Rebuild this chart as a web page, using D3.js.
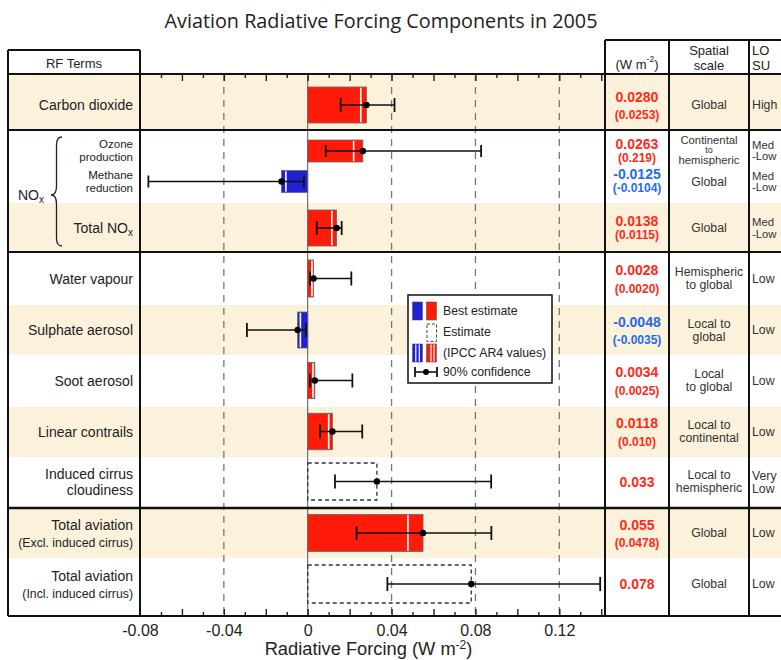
<!DOCTYPE html>
<html>
<head>
<meta charset="utf-8">
<script src="https://cdn.jsdelivr.net/npm/d3@7"></script>
<style>
  html, body { margin: 0; padding: 0; background: #fff; }
  svg { display: block; }
  text { font-family: "Liberation Sans", Arial, Helvetica, sans-serif; }
</style>
</head>
<body>
<svg id="chart" width="781" height="660"></svg>
<script>
// ---------------- DATA ----------------
const terms = ["Carbon dioxide", "Ozone production", "Methane reduction", "Total NOx",
  "Water vapour", "Sulphate aerosol", "Soot aerosol", "Linear contrails",
  "Induced cirrus cloudiness", "Total aviation (Excl. induced cirrus)", "Total aviation (Incl. induced cirrus)"];
const bestEstimate = [0.0280, 0.0263, -0.0125, 0.0138, 0.0028, -0.0048, 0.0034, 0.0118, 0.033, 0.055, 0.078];
const ar4Value = [0.0253, 0.0219, -0.0104, 0.0115, 0.0020, -0.0035, 0.0025, 0.010, null, 0.0478, null];
const ciLow = [0.0157, 0.0086, -0.0760, 0.0043, 0.0011, -0.0290, 0.0011, 0.0059, 0.0130, 0.0233, 0.0380];
const ciHigh = [0.0414, 0.0827, -0.0018, 0.0162, 0.0208, -0.0008, 0.0213, 0.0260, 0.0875, 0.0876, 0.1395];
const estimateOnly = [false, false, false, false, false, false, false, false, true, false, true];
const valueText = ["0.0280", "0.0263", "-0.0125", "0.0138", "0.0028", "-0.0048", "0.0034", "0.0118", "0.033", "0.055", "0.078"];
const ar4Text = ["(0.0253)", "(0.219)", "(-0.0104)", "(0.0115)", "(0.0020)", "(-0.0035)", "(0.0025)", "(0.010)", "", "(0.0478)", ""];
const spatialScale = [["Global"], ["Continental", "to", "hemispheric"], ["Global"], ["Global"],
  ["Hemispheric", "to global"], ["Local to", "global"], ["Local", "to global"], ["Local to", "continental"],
  ["Local to", "hemispheric"], ["Global"], ["Global"]];
const losu = [["High"], ["Med", "-Low"], ["Med", "-Low"], ["Med", "-Low"], ["Low"], ["Low"], ["Low"], ["Low"],
  ["Very", "Low"], ["Low"], ["Low"]];
const labelLines = [["Carbon dioxide"], ["Ozone", "production"], ["Methane", "reduction"], ["Total NO"],
  ["Water vapour"], ["Sulphate aerosol"], ["Soot aerosol"], ["Linear contrails"],
  ["Induced cirrus", "cloudiness"], ["Total aviation", "(Excl. induced cirrus)"], ["Total aviation", "(Incl. induced cirrus)"]];
const tickValues = [-0.08, -0.04, 0, 0.04, 0.08, 0.12];
const tickLabels = ["-0.08", "-0.04", "0", "0.04", "0.08", "0.12"];
const minorTicks = [-0.07, -0.06, -0.05, -0.04, -0.03, -0.02, -0.01, 0, 0.01, 0.02, 0.03, 0.04, 0.05, 0.06, 0.07, 0.08, 0.09, 0.10, 0.11, 0.12, 0.13, 0.14];
const gridValues = [-0.04, 0.04, 0.08, 0.12];
const legendItems = ["Best estimate", "Estimate", "(IPCC AR4 values)", "90% confidence"];

// ---------------- LAYOUT ----------------
const svg = d3.select("#chart");
const plotLeft = 140, plotRight = 605, plotTop = 74, plotBottom = 616;
const x = d3.scaleLinear().domain([-0.08, 0.1418]).range([plotLeft, plotRight]);
const rowCenters = [105, 151, 181.5, 228, 278.5, 330, 380.5, 431.5, 481.5, 533, 584];
const barHeights = [36, 22, 22, 36, 37, 36, 36, 36.5, 37, 37, 38];
const y = d3.scaleOrdinal().domain(terms).range(rowCenters);
const shadeBands = [[74, 130], [203, 252], [305, 355], [407, 457], [508, 558]];
const colVal = 637, colScale = 709, colLosu = 752;
const shade = "#fcf1db";
const RED = "#ff1a0a", BLUE = "#2020d4";
const txtRed = "#ff2a1a", txtBlue = "#1f6cf0";

// Title
svg.append("text").attr("x", 381).attr("y", 28).attr("text-anchor", "middle")
  .style("font-family", "'Open Sans', 'Noto Sans', sans-serif").style("font-size", "19.8px")
  .attr("fill", "#222").text("Aviation Radiative Forcing Components in 2005");

// Shaded bands
svg.append("g").selectAll("rect").data(shadeBands).join("rect")
  .attr("x", 8).attr("width", 781 - 8).attr("y", d => d[0]).attr("height", d => d[1] - d[0])
  .attr("fill", shade);

// Gridlines
svg.append("g").selectAll("line").data(gridValues).join("line")
  .attr("x1", d => x(d)).attr("x2", d => x(d)).attr("y1", plotTop).attr("y2", plotBottom)
  .attr("stroke", "#777").attr("stroke-width", 1.3).attr("stroke-dasharray", "7,6");
svg.append("line").attr("x1", x(0)).attr("x2", x(0)).attr("y1", plotTop).attr("y2", plotBottom)
  .attr("stroke", "#555").attr("stroke-width", 1);

// Minor/major ticks (top and bottom)
const isMajor = d => Math.abs(Math.round(d * 100)) % 2 === 0;
const topTicks = svg.append("g").attr("transform", `translate(0,${plotTop})`)
  .call(d3.axisBottom(x).tickValues(minorTicks).tickFormat("").tickSize(4));
const botTicks = svg.append("g").attr("transform", `translate(0,${plotBottom})`)
  .call(d3.axisTop(x).tickValues(minorTicks).tickFormat("").tickSize(4));
[topTicks, botTicks].forEach((g, i) => {
  g.select(".domain").remove();
  g.selectAll(".tick line").attr("stroke", "#222").attr("stroke-width", 1.4)
    .attr("y2", d => (isMajor(d) ? 7 : 4) * (i === 0 ? 1 : -1));
});

// Tick labels axis
const axis = svg.append("g").attr("transform", `translate(0,${plotBottom})`)
  .call(d3.axisBottom(x).tickValues(tickValues).tickSize(0).tickPadding(9)
    .tickFormat((d, i) => tickLabels[i]));
axis.select(".domain").remove();
axis.selectAll("text").style("font-size", "16px").attr("fill", "#222")
  .style("font-family", "'Liberation Sans', Arial, sans-serif");

// Axis title
const at = svg.append("text").attr("x", 368.5).attr("y", 655).attr("text-anchor", "middle")
  .style("font-size", "18.3px").attr("fill", "#222");
at.append("tspan").text("Radiative Forcing  (W m");
at.append("tspan").attr("dy", -6).style("font-size", "12px").text("-2");
at.append("tspan").attr("dy", 6).text(")");

// Bars
const idx = d3.range(terms.length);
const bars = svg.append("g");
idx.forEach(i => {
  const v = bestEstimate[i], h = barHeights[i], cy = y(terms[i]);
  const x0 = x(Math.min(0, v)), x1 = x(Math.max(0, v));
  if (estimateOnly[i]) {
    bars.append("rect").attr("x", x0).attr("y", cy - h / 2).attr("width", x1 - x0).attr("height", h)
      .attr("fill", "none").attr("stroke", "#333").attr("stroke-width", 1.3).attr("stroke-dasharray", "4,3");
  } else {
    bars.append("rect").attr("x", x0).attr("y", cy - h / 2).attr("width", x1 - x0).attr("height", h)
      .attr("fill", v < 0 ? BLUE : RED).attr("stroke", "#666").attr("stroke-width", 0.8);
    if (ar4Value[i] !== null) {
      bars.append("line").attr("x1", x(ar4Value[i])).attr("x2", x(ar4Value[i]))
        .attr("y1", cy - h / 2 + 0.8).attr("y2", cy + h / 2 - 0.8)
        .attr("stroke", "#fff").attr("stroke-width", 1.6);
    }
  }
});

// Error bars
const eb = svg.append("g");
idx.forEach(i => {
  const cy = y(terms[i]);
  const cap = barHeights[i] < 30 ? 12 : 14;
  eb.append("line").attr("x1", x(ciLow[i])).attr("x2", x(ciHigh[i])).attr("y1", cy).attr("y2", cy)
    .attr("stroke", "#111").attr("stroke-width", 1.6);
  [ciLow[i], ciHigh[i]].forEach(c => {
    eb.append("line").attr("x1", x(c)).attr("x2", x(c)).attr("y1", cy - cap / 2).attr("y2", cy + cap / 2)
      .attr("stroke", "#111").attr("stroke-width", 1.8);
  });
  eb.append("circle").attr("cx", x(bestEstimate[i])).attr("cy", cy).attr("r", 3.2).attr("fill", "#000");
});

// Row labels
const lab = svg.append("g").attr("fill", "#222");
idx.forEach(i => {
  const cy = y(terms[i]);
  const lines = labelLines[i];
  let sizes, offs;
  if (i === 1 || i === 2) { sizes = [11.5, 11.5]; offs = [-6.6, 6.4]; }
  else if (i === 9 || i === 10) { sizes = [14, 12.3]; offs = [-8, 10]; }
  else if (lines.length === 2) { sizes = [14, 14]; offs = [-8, 8]; }
  else { sizes = [14]; offs = [0]; }
  lines.forEach((ln, k) => {
    const t = lab.append("text").attr("x", 133).attr("y", cy + offs[k]).attr("text-anchor", "end")
      .attr("dominant-baseline", "central").style("font-size", sizes[k] + "px").text(ln);
    if (i === 3) t.append("tspan").attr("dy", 4).style("font-size", "10px").text("x");
  });
});

// NOx brace + label
svg.append("path")
  .attr("d", "M62,137 Q56.5,137 56.5,145 L56.5,186 Q56.5,195 51,195 Q56.5,195 56.5,204 L56.5,238 Q56.5,246 62,246")
  .attr("fill", "none").attr("stroke", "#222").attr("stroke-width", 1.3);
const nox = svg.append("text").attr("x", 18).attr("y", 195).attr("dominant-baseline", "central")
  .style("font-size", "14px").attr("fill", "#222").text("NO");
nox.append("tspan").attr("dy", 4).style("font-size", "10px").text("x");

// Table: values
const tv = svg.append("g").attr("text-anchor", "middle").style("font-weight", "bold");
idx.forEach(i => {
  const cy = y(terms[i]);
  const col = bestEstimate[i] < 0 ? txtBlue : txtRed;
  const nox = (i >= 1 && i <= 3);
  if (ar4Text[i] === "") {
    tv.append("text").attr("x", colVal).attr("y", cy).attr("dominant-baseline", "central")
      .style("font-size", "14px").attr("fill", col).text(valueText[i]);
  } else {
    tv.append("text").attr("x", colVal).attr("y", cy + (nox ? -7.5 : -8.5)).attr("dominant-baseline", "central")
      .style("font-size", "14px").attr("fill", col).text(valueText[i]);
    tv.append("text").attr("x", colVal).attr("y", cy + (nox ? 6.5 : 10)).attr("dominant-baseline", "central")
      .style("font-size", "12px").attr("fill", col).text(ar4Text[i]);
  }
});

// Table: spatial scale
const ts = svg.append("g").attr("text-anchor", "middle").attr("fill", "#333");
idx.forEach(i => {
  const cy = y(terms[i]);
  const lines = spatialScale[i];
  let offs = lines.length === 1 ? [0] : lines.length === 2 ? [-6.5, 6.5] : [-11.5, -1.3, 9];
  lines.forEach((ln, k) => {
    let fs = "12.3px";
    if (lines.length === 3) fs = k === 1 ? "9px" : "11.3px";
    ts.append("text").attr("x", colScale).attr("y", cy + offs[k]).attr("dominant-baseline", "central")
      .style("font-size", fs).text(ln);
  });
});

// Table: LOSU
const tl = svg.append("g").attr("fill", "#333");
idx.forEach(i => {
  const cy = y(terms[i]);
  const lines = losu[i];
  let offs = lines.length === 1 ? [0] : (i >= 1 && i <= 3 ? [-6, 5.5] : [-5.5, 7.5]);
  if (i === 1) offs = [-6.5, 4.5];
  const fs = (i >= 1 && i <= 3) ? "11.3px" : "12.3px";
  lines.forEach((ln, k) => {
    tl.append("text").attr("x", colLosu).attr("y", cy + offs[k]).attr("dominant-baseline", "central")
      .style("font-size", fs).text(ln);
  });
});

// Headers
const hd = svg.append("g").attr("fill", "#222").attr("text-anchor", "middle").style("font-size", "13px");
hd.append("text").attr("x", 74).attr("y", 63).attr("dominant-baseline", "central").text("RF Terms");
const wm = hd.append("text").attr("x", 637).attr("y", 64).attr("dominant-baseline", "central");
wm.append("tspan").text("(W m");
wm.append("tspan").attr("dy", -5).style("font-size", "8.5px").text("-2");
wm.append("tspan").attr("dy", 5).text(")");
hd.append("text").attr("x", 709).attr("y", 50).attr("dominant-baseline", "central").text("Spatial");
hd.append("text").attr("x", 709).attr("y", 65).attr("dominant-baseline", "central").text("scale");
hd.append("text").attr("x", 752).attr("y", 50).attr("text-anchor", "start").attr("dominant-baseline", "central").text("LO");
hd.append("text").attr("x", 752).attr("y", 65).attr("text-anchor", "start").attr("dominant-baseline", "central").text("SU");

// Frame lines
const fr = svg.append("g").attr("stroke", "#111").attr("stroke-width", 2).attr("fill", "none");
[[8, 781, 74], [8, 781, 130], [8, 781, 252], [8, 781, 508], [8, 781, 616], [8, 140, 50], [605, 781, 40]].forEach(d => {
  fr.append("line").attr("x1", d[0]).attr("x2", d[1]).attr("y1", d[2]).attr("y2", d[2]);
});
fr.select("line:nth-child(4)").attr("stroke-width", 2.6);
[[8, 50, 616], [140, 50, 616], [605, 40, 616], [669, 40, 616], [749, 40, 616]].forEach(d => {
  fr.append("line").attr("x1", d[0]).attr("x2", d[0]).attr("y1", d[1]).attr("y2", d[2]);
});

// Legend
const lg = svg.append("g");
lg.append("rect").attr("x", 408).attr("y", 295).attr("width", 144).attr("height", 88)
  .attr("fill", "#fff").attr("stroke", "#111").attr("stroke-width", 1.5);
const rowsY = [311, 332, 352.5, 372];
lg.append("rect").attr("x", 412.5).attr("y", 302).attr("width", 10).attr("height", 18).attr("fill", BLUE).attr("stroke", "#555").attr("stroke-width", 0.6);
lg.append("rect").attr("x", 426.5).attr("y", 302).attr("width", 10).attr("height", 18).attr("fill", RED).attr("stroke", "#555").attr("stroke-width", 0.6);
lg.append("rect").attr("x", 427).attr("y", 324).attr("width", 9.5).attr("height", 17.5).attr("fill", "none")
  .attr("stroke", "#444").attr("stroke-width", 1).attr("stroke-dasharray", "3,2");
lg.append("rect").attr("x", 412.5).attr("y", 344).attr("width", 10).attr("height", 18).attr("fill", BLUE).attr("stroke", "#555").attr("stroke-width", 0.6);
lg.append("rect").attr("x", 426.5).attr("y", 344).attr("width", 10).attr("height", 18).attr("fill", RED).attr("stroke", "#555").attr("stroke-width", 0.6);
[415.8, 419.3, 431, 434].forEach(xx => {
  lg.append("line").attr("x1", xx).attr("x2", xx).attr("y1", 344.5).attr("y2", 361.5).attr("stroke", "#fff").attr("stroke-width", 1.2);
});
lg.append("line").attr("x1", 415).attr("x2", 437).attr("y1", 372).attr("y2", 372).attr("stroke", "#111").attr("stroke-width", 1.6);
[415, 437].forEach(xx => lg.append("line").attr("x1", xx).attr("x2", xx).attr("y1", 367).attr("y2", 377).attr("stroke", "#111").attr("stroke-width", 1.8));
lg.append("circle").attr("cx", 426).attr("cy", 372).attr("r", 3).attr("fill", "#000");
legendItems.forEach((t, k) => {
  lg.append("text").attr("x", 443).attr("y", rowsY[k]).attr("dominant-baseline", "central")
    .style("font-size", "12.3px").attr("fill", "#222").text(t);
});
</script>
</body>
</html>
